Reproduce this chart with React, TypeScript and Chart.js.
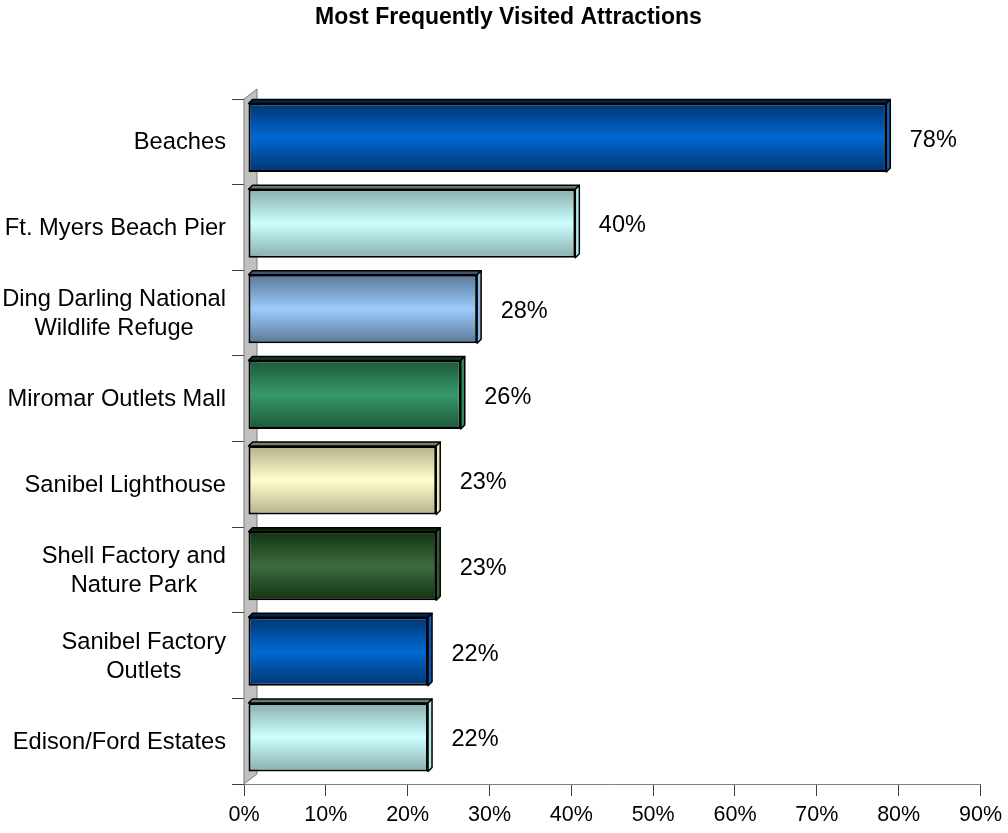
import React, { useEffect, useRef } from 'react';
import { Chart, registerables } from 'chart.js';

Chart.register(...registerables);

const TITLE = 'Most Frequently Visited Attractions';
const categories: string[][] = [
  ['Beaches'],
  ['Ft. Myers Beach Pier'],
  ['Ding Darling National', 'Wildlife Refuge'],
  ['Miromar Outlets Mall'],
  ['Sanibel Lighthouse'],
  ['Shell Factory and', 'Nature Park'],
  ['Sanibel Factory', 'Outlets'],
  ['Edison/Ford Estates'],
];
const values: number[] = [78, 40, 28, 26, 23, 23, 22, 22];
const xMin = 0;
const xMax = 90;
const xStep = 10;

const edgeColors = ['#003672', '#89AEAE', '#5A7898', '#1C5838', '#B4B28E', '#133313', '#003672', '#89AEAE'];
const centerColors = ['#0068D0', '#CCFFFF', '#9CCCFC', '#35996A', '#FFFFCC', '#3E6C3E', '#0068D0', '#CCFFFF'];
const topColors = ['#002550', '#5E7A7A', '#3E5470', '#123C26', '#7C7A60', '#0B220B', '#002550', '#5E7A7A'];
const sideColors = ['#0A5CB8', '#B8EAEA', '#8AB8E6', '#2E8A5C', '#E8E8B8', '#345C34', '#0A5CB8', '#B8EAEA'];

const FONT = '"Liberation Sans", Arial, Helvetica, sans-serif';
const DX = 4;
const DY = -4;
const BAR_PCT = 0.8;

const threeD = {
  id: 'threeD',
  beforeDatasetsDraw(chart: any) {
    const { ctx, chartArea } = chart;
    const l = chartArea.left;
    const t = chartArea.top;
    const b = chartArea.bottom;
    ctx.save();
    ctx.beginPath();
    ctx.moveTo(l, b);
    ctx.lineTo(l, t);
    ctx.lineTo(l + 13, t - 10);
    ctx.lineTo(l + 13, b - 10);
    ctx.closePath();
    ctx.fillStyle = '#C0C0C0';
    ctx.fill();
    ctx.strokeStyle = '#7A7A7A';
    ctx.lineWidth = 1;
    ctx.stroke();
    ctx.restore();
  },
  beforeDatasetDraw(chart: any) {
    chart.ctx.save();
    chart.ctx.translate(DX, DY);
  },
  afterDatasetDraw(chart: any, args: any) {
    const ctx = chart.ctx;
    const meta = args.meta;
    const d = 4;
    meta.data.forEach((el: any, i: number) => {
      const p = el.getProps(['x', 'y', 'base', 'height'], true);
      const top = p.y - p.height / 2;
      const bot = p.y + p.height / 2;
      const left = Math.min(p.base, p.x);
      const right = Math.max(p.base, p.x);
      ctx.lineWidth = 1.5;
      ctx.strokeStyle = '#000';
      ctx.lineJoin = 'round';
      // top face
      ctx.beginPath();
      ctx.moveTo(left, top);
      ctx.lineTo(left + d, top - d);
      ctx.lineTo(right + d, top - d);
      ctx.lineTo(right, top);
      ctx.closePath();
      ctx.fillStyle = topColors[i];
      ctx.fill();
      ctx.stroke();
      // side face
      ctx.beginPath();
      ctx.moveTo(right, top);
      ctx.lineTo(right + d, top - d);
      ctx.lineTo(right + d, bot - d);
      ctx.lineTo(right, bot);
      ctx.closePath();
      ctx.fillStyle = sideColors[i];
      ctx.fill();
      ctx.stroke();
    });
    ctx.restore();
  },
  afterDatasetsDraw(chart: any) {
    const { ctx } = chart;
    const xs = chart.scales.x;
    const ys = chart.scales.y;
    ctx.save();
    ctx.fillStyle = '#000';
    // category labels
    ctx.font = `23.7px ${FONT}`;
    ctx.textAlign = 'center';
    ctx.textBaseline = 'alphabetic';
    const rightEdge = ys.right - 18;
    categories.forEach((lines, i) => {
      const cy = ys.getPixelForValue(i);
      const w = Math.max(...lines.map((s) => ctx.measureText(s).width));
      const cx = rightEdge - w / 2;
      const n = lines.length;
      lines.forEach((s, j) => {
        ctx.fillText(s, cx, cy + (j - (n - 1) / 2) * 29 + 7.5);
      });
    });
    // data labels
    ctx.font = `23.5px ${FONT}`;
    ctx.textAlign = 'left';
    values.forEach((v, i) => {
      const cy = ys.getPixelForValue(i);
      const x = xs.getPixelForValue(v) + 27.5;
      ctx.fillText(`${v}%`, x, cy + 5);
    });
    ctx.restore();
  },
  afterDraw(chart: any) {
    const { ctx } = chart;
    ctx.save();
    ctx.font = `bold 23px ${FONT}`;
    ctx.fillStyle = '#000';
    ctx.textAlign = 'center';
    ctx.textBaseline = 'alphabetic';
    ctx.fillText(TITLE, 508.5, 23.5);
    ctx.restore();
  },
};

export default function App() {
  const ref = useRef<HTMLCanvasElement | null>(null);
  useEffect(() => {
    if (!ref.current) return;
    const chart = new Chart(ref.current, {
      type: 'bar',
      data: {
        labels: categories,
        datasets: [
          {
            data: values,
            backgroundColor: (c: any) => {
              const ch = c.chart;
              const ys = ch.scales?.y;
              const i = c.dataIndex ?? 0;
              if (!ys || ys.bottom === undefined) return centerColors[i];
              const cy = ys.getPixelForValue(i);
              const band = (ys.bottom - ys.top) / categories.length;
              const half = (band * BAR_PCT) / 2;
              const g = ch.ctx.createLinearGradient(0, cy - half, 0, cy + half);
              g.addColorStop(0, edgeColors[i]);
              g.addColorStop(0.5, centerColors[i]);
              g.addColorStop(1, edgeColors[i]);
              return g;
            },
            borderColor: '#000',
            borderWidth: 2,
            borderSkipped: false,
            barPercentage: BAR_PCT,
            categoryPercentage: 1,
            clip: false,
          } as any,
        ],
      },
      options: {
        indexAxis: 'y',
        animation: false,
        responsive: false,
        events: [],
        layout: { padding: { top: 99, right: 24, bottom: 0, left: 0 } },
        plugins: {
          legend: { display: false },
          tooltip: { enabled: false },
          title: { display: false },
        },
        scales: {
          x: {
            type: 'linear',
            min: xMin,
            max: xMax,
            ticks: {
              stepSize: xStep,
              callback: (v: any) => `${v}%`,
              color: '#000',
              font: { family: FONT, size: 21.5 },
              padding: 6,
              maxRotation: 0,
            },
            grid: {
              drawOnChartArea: false,
              drawTicks: true,
              tickLength: 12,
              color: '#404040',
            },
            border: { color: '#808080', width: 1 },
            afterFit: (s: any) => {
              s.height = 49;
            },
          },
          y: {
            type: 'category',
            offset: true,
            ticks: { display: false },
            grid: {
              offset: true,
              drawOnChartArea: false,
              drawTicks: true,
              tickLength: 12,
              color: '#404040',
            },
            border: { color: '#808080', width: 1 },
            afterFit: (s: any) => {
              s.width = 244;
            },
          },
        },
      },
      plugins: [threeD],
    });
    return () => chart.destroy();
  }, []);
  return (
    <div style={{ position: 'fixed', left: 0, top: 0, width: 1008, height: 833, background: '#fff' }}>
      <canvas ref={ref} width={1008} height={833} style={{ display: 'block' }} />
    </div>
  );
}
